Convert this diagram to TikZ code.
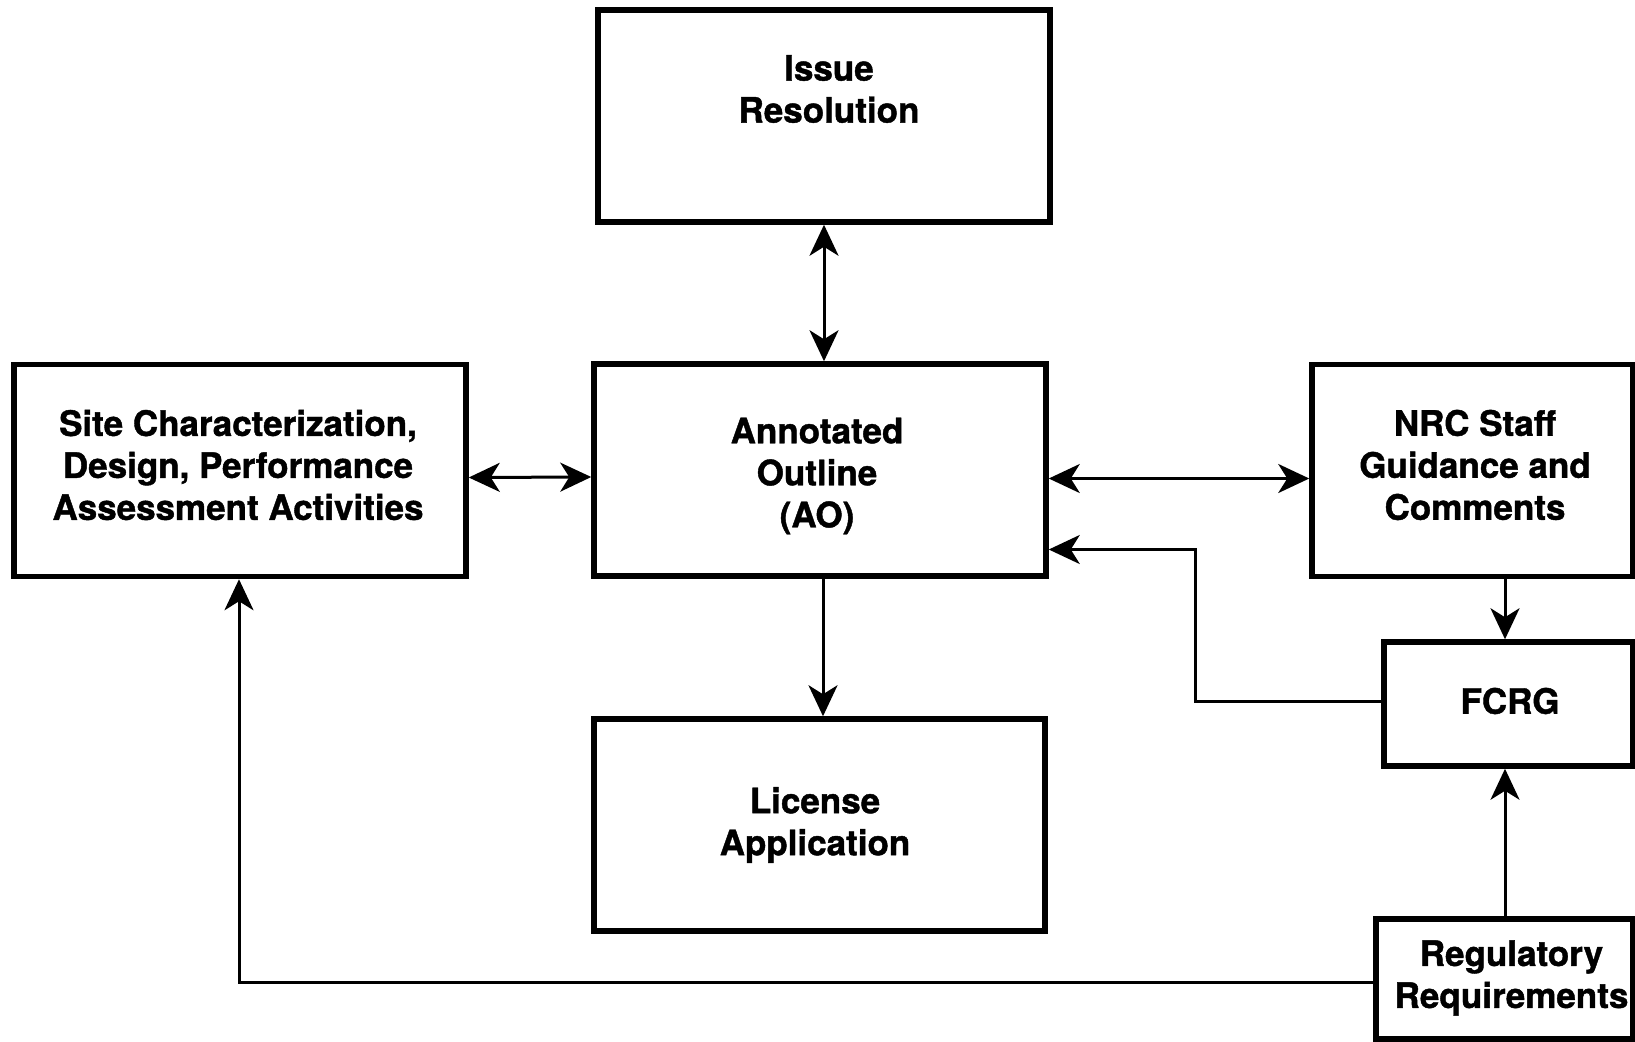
\documentclass[tikz,border=0pt]{standalone}
\usepackage{fontspec}
\setmainfont{TeX Gyre Heros}[BoldFeatures={FakeBold=1.2}]
\usetikzlibrary{arrows.meta,calc}
\tikzset{
  box/.style={draw, line width=5.5pt, inner sep=0pt, fill=white},
  txt/.style={font=\bfseries\fontsize{35}{42}\selectfont, align=center, inner sep=0pt},
  conn/.style={line width=3pt, -{Stealth[length=31pt,width=29pt,inset=9pt]}},
  both/.style={line width=3pt, {Stealth[length=31pt,width=29pt,inset=9pt]}-{Stealth[length=31pt,width=29pt,inset=9pt]}}
}
\begin{document}
\begin{tikzpicture}[x=1pt,y=-1pt]
\useasboundingbox (0,0) rectangle (1635,1041);

\node[box, minimum width=452pt, minimum height=212pt,
  label={[txt, xshift=5pt, yshift=27pt]center:Issue\\Resolution}] (ir) at (824,116) {};
\node[box, minimum width=452pt, minimum height=212pt,
  label={[txt, xshift=-3pt, yshift=-6pt]center:Annotated\\Outline\\(AO)}] (ao) at (820,470) {};
\node[box, minimum width=451pt, minimum height=212pt,
  label={[txt, xshift=-4.5pt]center:License\\Application}] (la) at (819.5,825) {};
\node[box, minimum width=452pt, minimum height=212pt,
  label={[txt, xshift=-2pt, yshift=5.5pt]center:Site Characterization,\\Design, Performance\\Assessment Activities}] (site) at (240,470.5) {};
\node[box, minimum width=321pt, minimum height=212pt,
  label={[txt, xshift=2.5pt, yshift=5.5pt]center:NRC Staff\\Guidance and\\Comments}] (nrc) at (1472.5,470.5) {};
\node[box, minimum width=249pt, minimum height=124pt,
  label={[txt, xshift=1.5pt, yshift=3pt]center:FCRG}] (fcrg) at (1508.5,704) {};
\node[box, minimum width=257pt, minimum height=120pt,
  label={[txt, xshift=7pt, yshift=1pt]center:Regulatory\\Requirements}] (reg) at (1504.5,979) {};

\draw[both] (ir.south) -- (ir.south |- ao.north);
\draw[both] ([yshift=-7pt]site.east) -- ([yshift=-7pt]ao.west);
\draw[both] ([yshift=-8.5pt]ao.east) -- ([yshift=-8pt]nrc.west);
\draw[conn] ([xshift=3pt]ao.south) -- ([xshift=3.5pt]la.north);
\draw[conn] ([xshift=32.5pt]nrc.south) -- ([xshift=-3.5pt]fcrg.north);
\draw[conn] ([xshift=0.5pt]reg.north) -- ([xshift=-3.5pt]fcrg.south);
\draw[conn] ([yshift=3pt]fcrg.west) -| (1195,549.5) -- ([yshift=-79.5pt]ao.east);
\draw[conn] ([yshift=-3pt]reg.west) -| ([xshift=-1pt]site.south);
\end{tikzpicture}
\end{document}
